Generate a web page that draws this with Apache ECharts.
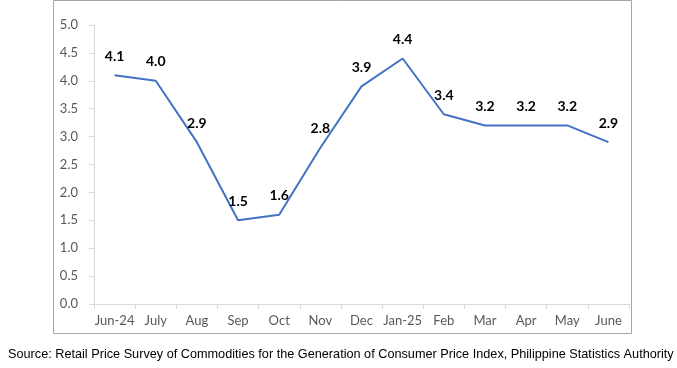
<!DOCTYPE html>
<html><head><meta charset="utf-8">
<script src="https://cdn.jsdelivr.net/npm/echarts@6/dist/echarts.min.js"></script>
<style>html,body{margin:0;padding:0;background:#fff}#c{width:677px;height:368px}</style>
</head><body><div id="c"></div>
<script>
const categories = ['Jun-24','July','Aug','Sep','Oct','Nov','Dec','Jan-25','Feb','Mar','Apr','May','June'];
const values = [4.1,4.0,2.9,1.5,1.6,2.8,3.9,4.4,3.4,3.2,3.2,3.2,2.9];
const sourceText = 'Source: Retail Price Survey of Commodities for the Generation of Consumer Price Index, Philippine Statistics Authority';

const chart = echarts.init(document.getElementById('c'), null, {renderer:'canvas'});
chart.setOption({
  animation:false,
  backgroundColor:'#fff',
  grid:{left:94,right:48,top:25,bottom:64},
  xAxis:{type:'category',data:categories,boundaryGap:true,
    axisLine:{lineStyle:{color:'#d9d9d9',width:1}},
    axisTick:{show:true,length:5,lineStyle:{color:'#d9d9d9'}},
    axisLabel:{interval:0,color:'#595959',fontFamily:'Lato, Carlito, sans-serif',fontSize:13,margin:10}},
  yAxis:{type:'value',min:0,max:5,interval:0.5,
    axisLine:{show:true,lineStyle:{color:'#d9d9d9'}},
    axisTick:{show:true,length:5,lineStyle:{color:'#d9d9d9'}},
    splitLine:{show:false},
    axisLabel:{color:'#595959',fontFamily:'Lato, Carlito, sans-serif',fontSize:13,margin:16,
      formatter:v=>v.toFixed(1)}},
  series:[{type:'line',data:values,symbol:'circle',symbolSize:2,showSymbol:true,
    itemStyle:{color:'rgba(0,0,0,0)',borderWidth:0},
    lineStyle:{color:'#4472C4',width:2},
    label:{show:true,position:'top',distance:11,color:'#000',fontWeight:'bold',
      fontFamily:'Lato, Carlito, sans-serif',fontSize:14,formatter:p=>p.value.toFixed(1)}}],
  graphic:[
    {type:'rect',shape:{x:53.5,y:0.5,width:578,height:333},style:{fill:null,stroke:'#a6a6a6',lineWidth:1},silent:true},
    {type:'text',left:8,top:348,style:{text:sourceText,fill:'#000',font:'12.7px "Liberation Sans", Arial, sans-serif'}}
  ]
});
</script></body></html>
